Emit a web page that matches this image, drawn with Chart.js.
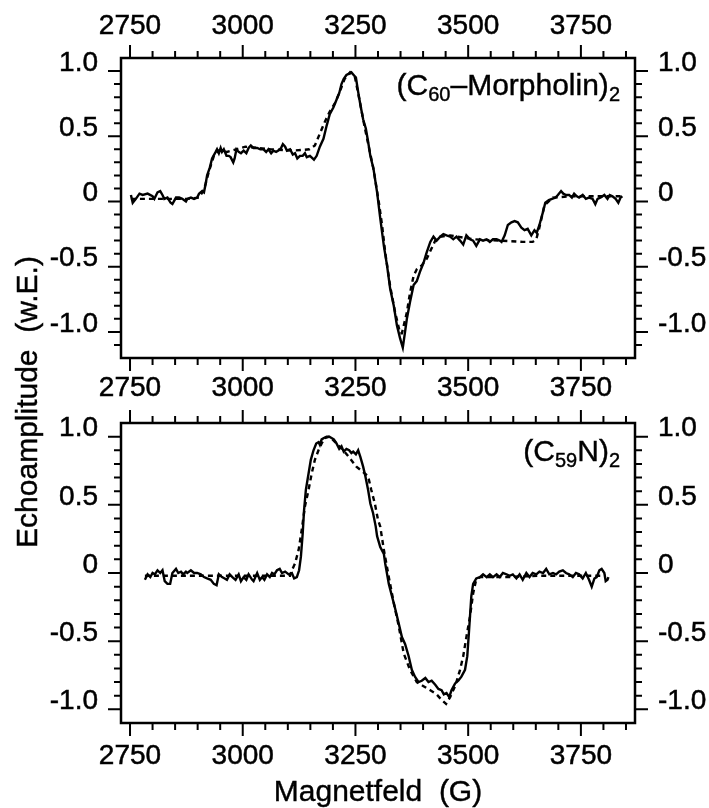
<!DOCTYPE html>
<html>
<head>
<meta charset="utf-8">
<script src="https://cdn.jsdelivr.net/npm/chart.js@4"></script>
<style>
html,body{margin:0;padding:0;background:#fff;}
#wrap{position:relative;width:709px;height:808px;overflow:hidden;background:#fff;font-family:"Liberation Sans",Arial,sans-serif;color:#000;}
canvas{position:absolute;left:0;}
#c1{top:0;}
#c2{top:383px;}
.lab{position:absolute;font-size:30px;line-height:30px;white-space:nowrap;-webkit-text-stroke:0.4px #000;}
.lab .sb{font-size:20px;position:relative;top:6px;}
#ytitle{position:absolute;left:-173px;top:387px;width:400px;height:30px;line-height:30px;font-size:30px;text-align:center;white-space:pre;transform:rotate(-90deg);transform-origin:50% 50%;-webkit-text-stroke:0.4px #000;}
#xtitle{position:absolute;left:178px;top:776px;width:400px;height:30px;line-height:30px;font-size:30px;text-align:center;white-space:pre;-webkit-text-stroke:0.4px #000;}
</style>
</head>
<body>
<div id="wrap">
<canvas id="c1" width="709" height="420"></canvas>
<canvas id="c2" width="709" height="425"></canvas>
<div class="lab" style="right:89px;top:70px;">(C<span class="sb">60</span>–Morpholin)<span class="sb">2</span></div>
<div class="lab" style="right:89px;top:436px;">(C<span class="sb">59</span>N)<span class="sb">2</span></div>
<div id="ytitle">Echoamplitude  (w.E.)</div>
<div id="xtitle">Magnetfeld  (G)</div>
</div>
<script>
// ---- data (Magnetfeld G, Echoamplitude) ----
const fieldTicks = [2750, 3000, 3250, 3500, 3750];
const ampTicks = [-1.0, -0.5, 0, 0.5, 1.0];

const morpholinExp = [[2752,0.05],[2756,-0.01],[2763,0.02],[2771,0.06],[2778,0.05],[2789,0.06],[2800,0.04],[2804,0.02],[2811,0.07],[2817,0.08],[2822,0.05],[2826,0.02],[2833,0.03],[2840,-0.01],[2844,-0.02],[2852,0.03],[2859,0.03],[2866,0.02],[2874,0.00],[2877,0.02],[2885,0.03],[2892,0.02],[2899,0.03],[2903,0.06],[2910,0.08],[2914,0.07],[2918,0.14],[2921,0.20],[2927,0.26],[2932,0.33],[2940,0.38],[2943,0.40],[2947,0.37],[2951,0.41],[2954,0.38],[2958,0.40],[2964,0.35],[2969,0.35],[2973,0.34],[2979,0.30],[2982,0.33],[2986,0.40],[2991,0.38],[2996,0.37],[3002,0.39],[3008,0.37],[3013,0.41],[3018,0.43],[3024,0.41],[3032,0.41],[3039,0.40],[3046,0.40],[3052,0.38],[3057,0.40],[3063,0.37],[3068,0.39],[3074,0.38],[3079,0.39],[3085,0.41],[3089,0.44],[3094,0.42],[3098,0.39],[3105,0.40],[3111,0.36],[3116,0.37],[3121,0.33],[3127,0.35],[3133,0.35],[3138,0.37],[3142,0.34],[3149,0.35],[3155,0.33],[3158,0.32],[3164,0.35],[3171,0.42],[3179,0.48],[3186,0.58],[3193,0.67],[3201,0.72],[3208,0.78],[3214,0.83],[3219,0.90],[3224,0.94],[3230,0.97],[3236,0.98],[3241,0.99],[3246,0.97],[3251,0.95],[3256,0.84],[3261,0.74],[3267,0.63],[3273,0.56],[3278,0.46],[3283,0.35],[3290,0.25],[3298,0.07],[3305,-0.13],[3313,-0.34],[3320,-0.49],[3327,-0.67],[3335,-0.80],[3342,-0.95],[3349,-1.05],[3355,-1.12],[3360,-1.00],[3364,-0.90],[3371,-0.77],[3379,-0.64],[3386,-0.61],[3393,-0.54],[3401,-0.47],[3408,-0.39],[3416,-0.31],[3423,-0.27],[3430,-0.30],[3438,-0.27],[3445,-0.25],[3452,-0.26],[3460,-0.27],[3467,-0.29],[3474,-0.27],[3482,-0.30],[3489,-0.33],[3496,-0.26],[3504,-0.29],[3511,-0.30],[3518,-0.34],[3526,-0.29],[3533,-0.30],[3541,-0.29],[3548,-0.31],[3555,-0.29],[3563,-0.29],[3570,-0.30],[3574,-0.31],[3581,-0.26],[3588,-0.18],[3596,-0.16],[3603,-0.15],[3610,-0.16],[3618,-0.20],[3625,-0.22],[3632,-0.21],[3640,-0.26],[3647,-0.22],[3652,-0.24],[3658,-0.18],[3666,-0.08],[3671,-0.01],[3679,0.01],[3686,0.02],[3694,0.03],[3699,0.05],[3706,0.08],[3711,0.06],[3717,0.05],[3724,0.05],[3730,0.03],[3735,0.06],[3741,0.04],[3746,0.03],[3754,0.05],[3761,0.02],[3768,0.03],[3776,0.02],[3782,-0.02],[3787,0.02],[3794,0.03],[3802,0.05],[3809,0.02],[3814,0.05],[3820,0.04],[3827,0.02],[3833,-0.01],[3838,0.03],[3842,0.04]];

const morpholinSim = [[2752,0.02],[2804,0.02],[2877,0.02],[2903,0.03],[2914,0.09],[2925,0.23],[2936,0.35],[2947,0.39],[2965,0.38],[3006,0.42],[3061,0.40],[3113,0.39],[3148,0.40],[3160,0.43],[3171,0.52],[3182,0.61],[3193,0.69],[3204,0.75],[3215,0.84],[3226,0.94],[3238,0.99],[3249,0.95],[3260,0.76],[3271,0.56],[3282,0.38],[3290,0.25],[3302,-0.01],[3309,-0.18],[3316,-0.39],[3327,-0.65],[3338,-0.85],[3349,-1.01],[3353,-1.01],[3364,-0.85],[3371,-0.70],[3379,-0.57],[3386,-0.52],[3397,-0.49],[3408,-0.44],[3416,-0.38],[3427,-0.30],[3438,-0.27],[3460,-0.26],[3511,-0.29],[3570,-0.30],[3621,-0.31],[3643,-0.31],[3651,-0.29],[3658,-0.20],[3669,-0.03],[3688,0.03],[3732,0.04],[3805,0.04],[3842,0.04]];

const azaExp = [[2783,-0.05],[2789,-0.01],[2795,-0.03],[2800,0.00],[2805,-0.01],[2811,0.02],[2817,0.00],[2822,0.02],[2827,-0.06],[2833,-0.08],[2839,-0.08],[2844,0.00],[2852,0.03],[2857,0.00],[2863,0.01],[2868,-0.01],[2874,0.01],[2877,0.00],[2885,0.02],[2892,0.00],[2899,0.00],[2907,-0.01],[2914,-0.03],[2921,-0.04],[2929,-0.05],[2936,-0.08],[2942,-0.09],[2947,-0.01],[2954,-0.03],[2960,-0.04],[2965,-0.05],[2971,-0.01],[2977,-0.03],[2984,-0.05],[2991,-0.01],[2996,-0.06],[3002,-0.03],[3008,-0.05],[3013,-0.01],[3021,-0.05],[3024,-0.06],[3032,0.00],[3038,-0.05],[3043,-0.03],[3048,-0.05],[3054,-0.01],[3060,-0.03],[3065,0.00],[3070,-0.01],[3076,0.02],[3082,0.03],[3087,0.00],[3094,0.01],[3102,-0.01],[3109,0.00],[3114,-0.04],[3120,-0.03],[3125,0.02],[3129,0.12],[3133,0.29],[3136,0.46],[3140,0.61],[3146,0.73],[3151,0.83],[3157,0.90],[3163,0.95],[3168,0.96],[3171,0.94],[3175,0.98],[3180,0.99],[3186,1.00],[3192,1.00],[3197,0.99],[3202,0.98],[3208,0.95],[3214,0.91],[3219,0.93],[3224,0.89],[3230,0.91],[3236,0.90],[3241,0.88],[3245,0.89],[3251,0.87],[3256,0.90],[3261,0.85],[3267,0.78],[3272,0.71],[3278,0.61],[3283,0.51],[3289,0.44],[3295,0.34],[3298,0.27],[3305,0.19],[3313,0.14],[3316,0.07],[3324,-0.08],[3331,-0.17],[3338,-0.26],[3346,-0.37],[3353,-0.47],[3360,-0.52],[3368,-0.61],[3375,-0.71],[3382,-0.76],[3390,-0.80],[3397,-0.79],[3405,-0.77],[3412,-0.80],[3419,-0.79],[3427,-0.82],[3434,-0.85],[3441,-0.86],[3446,-0.89],[3452,-0.88],[3458,-0.91],[3463,-0.86],[3471,-0.81],[3478,-0.79],[3485,-0.76],[3493,-0.71],[3498,-0.61],[3502,-0.42],[3507,-0.17],[3511,-0.08],[3518,-0.04],[3526,-0.03],[3533,-0.01],[3541,-0.03],[3548,-0.01],[3555,-0.03],[3563,-0.01],[3570,-0.03],[3577,0.00],[3585,-0.01],[3592,-0.02],[3599,-0.01],[3607,-0.04],[3614,-0.01],[3621,-0.05],[3629,0.00],[3636,-0.03],[3643,0.00],[3651,-0.01],[3658,0.01],[3666,0.00],[3673,0.03],[3680,-0.01],[3688,0.00],[3695,-0.01],[3702,0.01],[3710,0.02],[3717,0.00],[3724,-0.01],[3732,-0.03],[3739,0.00],[3746,-0.01],[3754,-0.04],[3761,0.00],[3768,-0.05],[3774,-0.10],[3780,-0.04],[3785,-0.03],[3791,0.02],[3796,0.03],[3802,0.00],[3805,-0.06],[3809,-0.05],[3811,-0.03]];

const azaSim = [[2783,-0.02],[2877,-0.02],[3024,-0.02],[3105,-0.02],[3109,0.02],[3116,0.07],[3124,0.17],[3131,0.32],[3138,0.49],[3146,0.61],[3153,0.73],[3160,0.83],[3168,0.90],[3175,0.95],[3182,0.99],[3193,1.00],[3208,0.95],[3223,0.90],[3238,0.84],[3252,0.78],[3267,0.74],[3278,0.71],[3285,0.61],[3293,0.51],[3300,0.39],[3305,0.34],[3313,0.17],[3324,-0.03],[3335,-0.22],[3346,-0.39],[3357,-0.59],[3371,-0.71],[3386,-0.80],[3401,-0.83],[3416,-0.86],[3430,-0.89],[3441,-0.93],[3451,-0.96],[3460,-0.91],[3471,-0.83],[3482,-0.71],[3489,-0.61],[3496,-0.47],[3504,-0.32],[3511,-0.15],[3517,-0.06],[3526,-0.03],[3585,-0.03],[3658,-0.02],[3732,-0.02],[3805,-0.02]];

// ---- helpers ----
Chart.defaults.font.family = '"Liberation Sans", Arial, sans-serif';
Chart.defaults.color = '#000';

const toXY = arr => arr.map(p => ({x: p[0], y: p[1]}));
const fmtAmp = v => (Math.abs(v) < 1e-9 ? '0' : v.toFixed(1));

const frameTicks = {
  id: 'frameTicks',
  afterDraw(chart) {
    const {ctx, chartArea: a} = chart;
    const xs = chart.scales.x, ys = chart.scales.y;
    ctx.save();
    ctx.strokeStyle = '#000';
    ctx.lineWidth = 2;
    ctx.beginPath();
    for (let g = 2750; g <= 3850; g += 50) {
      const px = xs.getPixelForValue(g);
      const len = (g % 250 === 0) ? 13 : 7;
      ctx.moveTo(px, a.top); ctx.lineTo(px, a.top - len);
      ctx.moveTo(px, a.bottom); ctx.lineTo(px, a.bottom + len);
    }
    const lo = Math.ceil(ys.min * 10 + 1e-6), hi = Math.floor(ys.max * 10 - 1e-6);
    for (let i = lo; i <= hi; i++) {
      const py = ys.getPixelForValue(i / 10);
      const len = (i % 5 === 0) ? 13 : 7;
      ctx.moveTo(a.left, py); ctx.lineTo(a.left - len, py);
      ctx.moveTo(a.right, py); ctx.lineTo(a.right + len, py);
    }
    ctx.stroke();
    ctx.lineWidth = 2.5;
    ctx.strokeRect(a.left, a.top, a.right - a.left, a.bottom - a.top);
    ctx.restore();
  }
};

function makeChart(id, expData, simData, yMin, yMax, sizes, showTopLabels) {
  const tickFont = {size: 28};
  const tickStyle = {font: tickFont, textStrokeColor: '#000', textStrokeWidth: 0.5};
  const xTicks = s => { s.ticks = fieldTicks.map(v => ({value: v})); };
  const yTicks = s => { s.ticks = ampTicks.map(v => ({value: v})); };
  const noGrid = {display: false, drawTicks: false};
  return new Chart(document.getElementById(id), {
    type: 'line',
    data: {
      datasets: [
        {data: toXY(simData), borderColor: '#000', borderWidth: 2.4, borderDash: [5, 4], pointRadius: 0, tension: 0, fill: false},
        {data: toXY(expData), borderColor: '#000', borderWidth: 2.4, pointRadius: 0, tension: 0, fill: false}
      ]
    },
    options: {
      responsive: false,
      devicePixelRatio: 1,
      animation: false,
      events: [],
      layout: {padding: 0},
      plugins: {legend: {display: false}, tooltip: {enabled: false}, title: {display: false}},
      scales: {
        x: {type: 'linear', position: 'bottom', min: 2730, max: 3870, afterBuildTicks: xTicks,
            grid: noGrid, border: {display: false},
            ticks: {...tickStyle, padding: sizes.xbPad, maxRotation: 0, autoSkip: false, callback: v => String(v)},
            afterFit: s => { s.height = sizes.bottom; }},
        x2: {type: 'linear', position: 'top', min: 2730, max: 3870, afterBuildTicks: xTicks,
            grid: noGrid, border: {display: false},
            ticks: {...tickStyle, display: showTopLabels, padding: 15, maxRotation: 0, autoSkip: false, callback: v => String(v)},
            afterFit: s => { s.height = sizes.top; }},
        y: {type: 'linear', position: 'left', min: yMin, max: yMax, afterBuildTicks: yTicks,
            grid: noGrid, border: {display: false},
            ticks: {...tickStyle, padding: 23, labelOffset: -8, callback: fmtAmp},
            afterFit: s => { s.width = 121; }},
        y2: {type: 'linear', position: 'right', min: yMin, max: yMax, afterBuildTicks: yTicks,
            grid: noGrid, border: {display: false},
            ticks: {...tickStyle, padding: 23, labelOffset: -8, callback: fmtAmp},
            afterFit: s => { s.width = 74; }}
      }
    },
    plugins: [frameTicks]
  });
}

makeChart('c1', morpholinExp, morpholinSim, -1.2, 1.1, {top: 58, bottom: 62, xbPad: 13}, true);
makeChart('c2', azaExp, azaSim, -1.1, 1.1, {top: 40, bottom: 85, xbPad: 16}, false);
</script>
</body>
</html>
